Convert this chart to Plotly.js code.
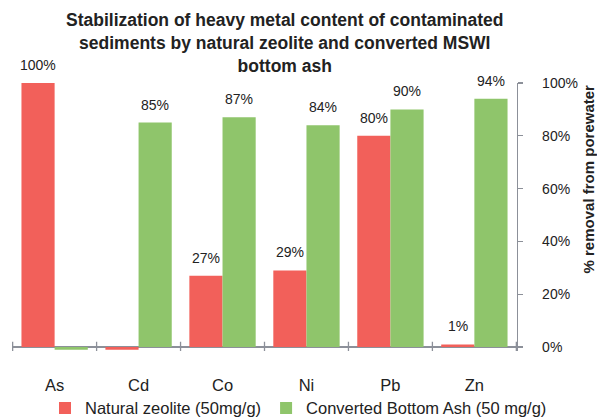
<!DOCTYPE html>
<html>
<head>
<meta charset="utf-8">
<script src="https://cdn.plot.ly/plotly-3.0.1.min.js"></script>
<style>
  html, body { margin: 0; padding: 0; background: #fff; }
  #chart { width: 597px; height: 420px; }
</style>
</head>
<body>
<div id="chart"></div>
<script>
// Heavy metals measured in the porewater
const metals = ['As', 'Cd', 'Co', 'Ni', 'Pb', 'Zn'];

// % removal from porewater for each sorbent
const zeoliteRemoval = [100, -1, 27, 29, 80, 1];
const bottomAshRemoval = [-1, 85, 87, 84, 90, 94];

const seriesNames = ['Natural zeolite (50mg/g)', 'Converted Bottom Ash (50 mg/g)'];
const yTickValues = [0, 20, 40, 60, 80, 100];
const yTickLabels = ['0%', '20%', '40%', '60%', '80%', '100%'];

const RED = '#f2605a';
const GREEN = '#8fc56b';
const AXIS = '#8c9099';
const FONT = 'Liberation Sans, Arial, Helvetica, sans-serif';
const BARGAP = 0.21;

const traces = [
  { type: 'bar', name: seriesNames[0], x: metals, y: zeoliteRemoval,
    marker: { color: RED }, hoverinfo: 'skip' },
  { type: 'bar', name: seriesNames[1], x: metals, y: bottomAshRemoval,
    marker: { color: GREEN }, hoverinfo: 'skip' }
];

// value labels above each positive bar, placed at the grouped bar centres
const halfBar = (1 - BARGAP) / 4;
const annotations = [];
[zeoliteRemoval, bottomAshRemoval].forEach((vals, s) => {
  const off = s === 0 ? -halfBar : halfBar;
  vals.forEach((v, i) => {
    if (v > 0) {
      annotations.push({
        xref: 'x', yref: 'y', x: i + off, y: v,
        text: v + '%', showarrow: false,
        yanchor: 'middle', yshift: 18,
        font: { family: FONT, size: 14, color: '#222' }
      });
    }
  });
});

// axis title on the right edge
annotations.push({
  xref: 'paper', yref: 'paper', x: 1.1406, y: 0.64,
  xanchor: 'center', yanchor: 'middle', textangle: -90,
  text: '<b>% removal from porewater</b>', showarrow: false,
  font: { family: FONT, size: 15, color: '#222' }
});

// cross tick marks on the category axis at each category boundary
const shapes = [];
for (let i = 0; i <= metals.length; i++) {
  shapes.push({
    type: 'line', xref: 'x', yref: 'y',
    x0: i - 0.5, x1: i - 0.5, y0: -2, y1: 2,
    line: { color: AXIS, width: 1.3 }
  });
}

const layout = {
  width: 597, height: 420,
  margin: { l: 12, r: 80, t: 83, b: 69 },
  paper_bgcolor: '#fff', plot_bgcolor: '#fff',
  font: { family: FONT, color: '#222' },
  title: {
    text: '<b>Stabilization of heavy metal content of contaminated<br>sediments by natural zeolite and converted MSWI<br>bottom ash</b>',
    xref: 'container', x: 0.477, xanchor: 'center',
    yref: 'container', y: 0.938, yanchor: 'middle',
    font: { family: FONT, size: 17.5, color: '#222' }
  },
  barmode: 'group', bargap: BARGAP, bargroupgap: 0,
  xaxis: {
    type: 'category', showline: false, showgrid: false, zeroline: false,
    ticks: '', ticklabelstandoff: 22,
    tickfont: { family: FONT, size: 16.5, color: '#222' },
    fixedrange: true
  },
  yaxis: {
    side: 'right', range: [-1.5, 100],
    tickvals: yTickValues, ticktext: yTickLabels,
    showline: true, linecolor: AXIS, linewidth: 1.3,
    ticks: 'outside', ticklen: 5, tickcolor: AXIS, tickwidth: 1.3,
    ticklabelstandoff: 16,
    tickfont: { family: FONT, size: 14, color: '#222' },
    showgrid: false,
    zeroline: true, zerolinecolor: AXIS, zerolinewidth: 1.5,
    fixedrange: true
  },
  showlegend: true,
  legend: {
    orientation: 'h', xref: 'container', x: 0.5, xanchor: 'center',
    yref: 'container', y: 0.028, yanchor: 'middle',
    itemwidth: 30, tracegroupgap: 0,
    font: { family: FONT, size: 16.5, color: '#222' }
  },
  annotations: annotations,
  shapes: shapes
};

Plotly.newPlot('chart', traces, layout, { displayModeBar: false, staticPlot: true });
</script>
</body>
</html>
